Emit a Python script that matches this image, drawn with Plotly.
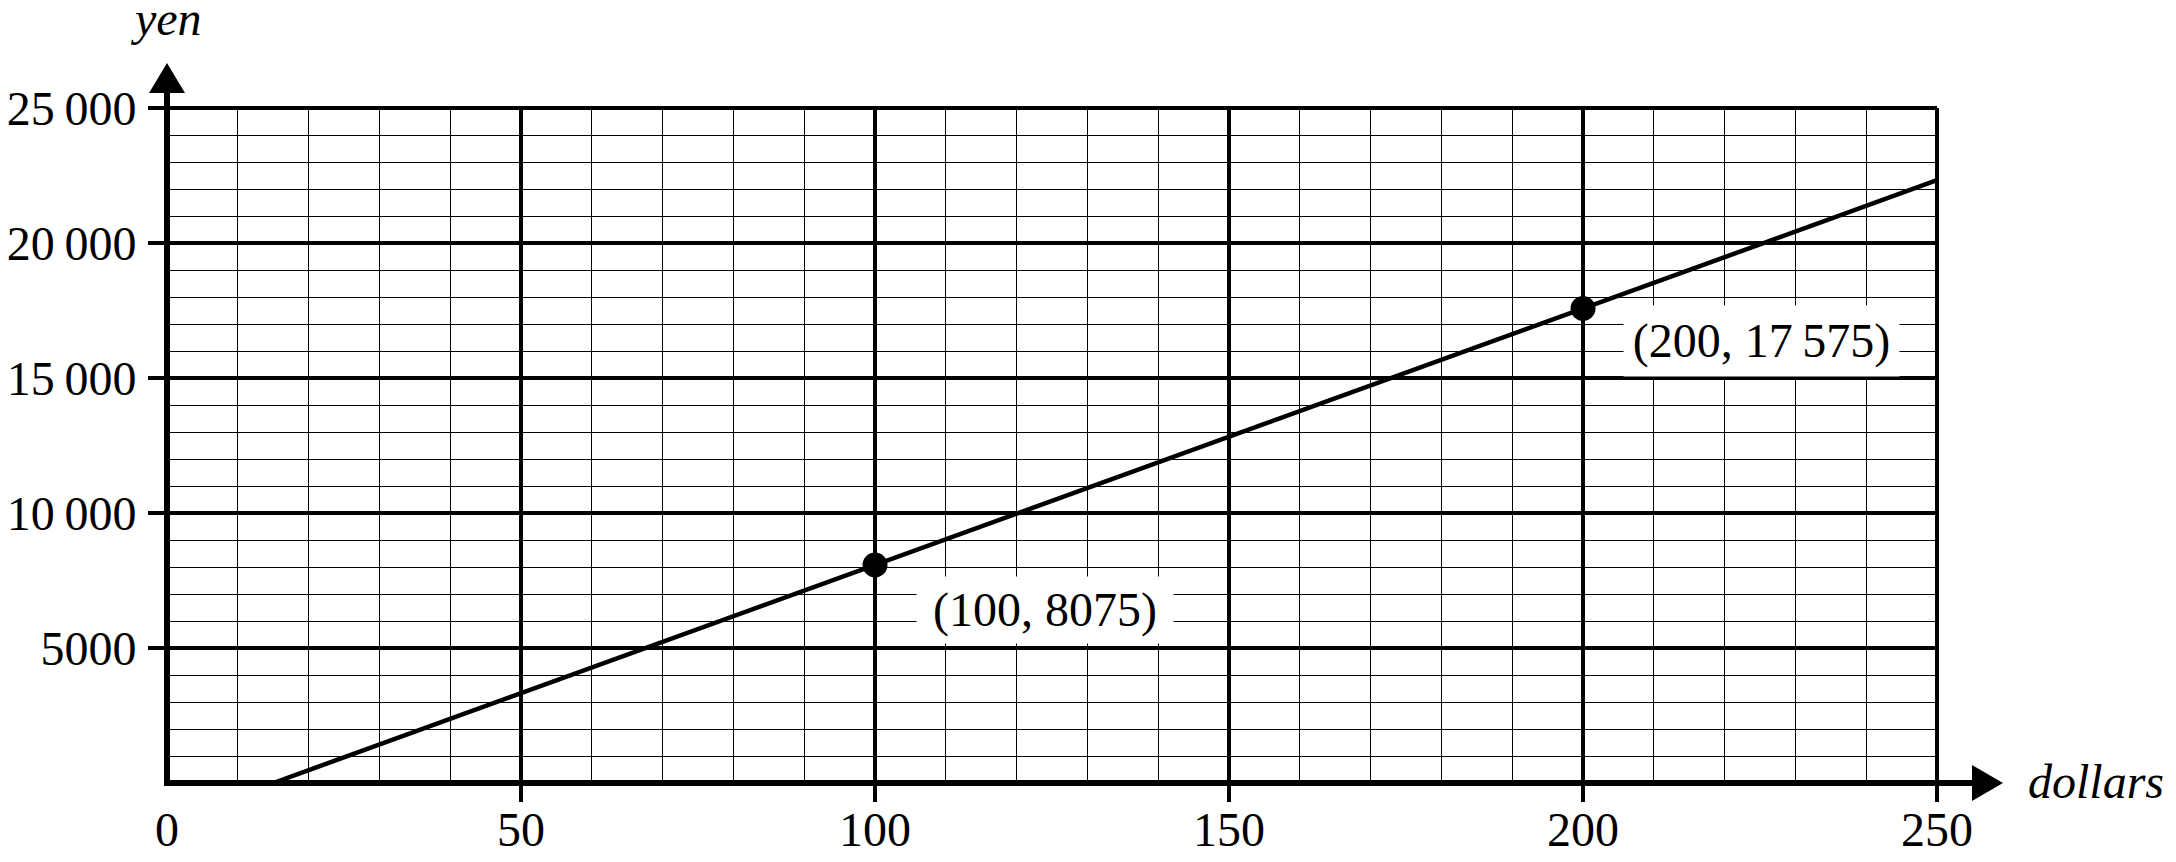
import plotly.graph_objects as go

# ---- data ----
dollars_pts = [100, 200]
yen_pts = [8075, 17575]
point_labels = ["(100, 8075)", "(200, 17\u2009575)"]
x_tickvals = [0, 50, 100, 150, 200, 250]
x_ticktext = ["0", "50", "100", "150", "200", "250"]
y_tickvals = [5000, 10000, 15000, 20000, 25000]
y_ticktext = ["5000", "10\u2009000", "15\u2009000", "20\u2009000", "25\u2009000"]
x_range = [0, 250]
y_range = [0, 25000]

# line through the two points, extended from the x-axis to the right edge
slope = (yen_pts[1] - yen_pts[0]) / (dollars_pts[1] - dollars_pts[0])
x_start = dollars_pts[0] - yen_pts[0] / slope
line_x = [x_start, x_range[1]]
line_y = [yen_pts[0] + slope * (xx - dollars_pts[0]) for xx in line_x]

# ---- layout geometry (screen pixels; page body has an 8px margin) ----
OFF = 8
W, H = 2176 - OFF, 862 - OFF
SL, SR, ST, SB = 167, 1937, 108, 783          # plot area on screen
L, R, T, B = SL - OFF, (OFF + W) - SR, ST - OFF, (OFF + H) - SB
PW, PH = SR - SL, SB - ST


def px(x):
    return (x - SL) / PW


def py(y):
    return (SB - y) / PH


FONT = "Liberation Serif, Times New Roman, serif"

fig = go.Figure()
fig.add_trace(go.Scatter(x=line_x, y=line_y, mode="lines",
                         line=dict(color="black", width=4.5),
                         hoverinfo="skip", showlegend=False, cliponaxis=False))
fig.add_trace(go.Scatter(x=dollars_pts, y=yen_pts, mode="markers",
                         marker=dict(color="black", size=25),
                         showlegend=False))
# dummy trace to create the tick-only overlay axis
fig.add_trace(go.Scatter(x=[None], y=[None], xaxis="x2", yaxis="y",
                         showlegend=False, hoverinfo="skip"))

shapes = []
# top and right borders
shapes.append(dict(type="line", xref="paper", yref="paper", x0=0, x1=1, y0=1, y1=1,
                   line=dict(color="black", width=4)))
shapes.append(dict(type="line", xref="paper", yref="paper", x0=1, x1=1, y0=0, y1=1,
                   line=dict(color="black", width=4)))
# axes
shapes.append(dict(type="line", xref="paper", yref="paper",
                   x0=px(167), x1=px(167), y0=py(786), y1=py(92),
                   line=dict(color="black", width=6)))
shapes.append(dict(type="line", xref="paper", yref="paper",
                   x0=px(164), x1=px(1973), y0=py(783), y1=py(783),
                   line=dict(color="black", width=6)))
# arrowheads
shapes.append(dict(type="path", xref="paper", yref="paper",
                   path=f"M {px(167)},{py(63)} L {px(149)},{py(93)} L {px(185)},{py(93)} Z",
                   fillcolor="black", line=dict(color="black", width=0)))
shapes.append(dict(type="path", xref="paper", yref="paper",
                   path=f"M {px(2003)},{py(783)} L {px(1972)},{py(765)} L {px(1972)},{py(801)} Z",
                   fillcolor="black", line=dict(color="black", width=0)))

annotations = []
# point labels
offsets = [(41, -11, 256, 66), (40, 3, 275, 70)]
for xv, yv, txt, (dx, dy, bw, bh) in zip(dollars_pts, yen_pts, point_labels, offsets):
    annotations.append(dict(x=xv, y=yv, xref="x", yref="y", text=txt, showarrow=False,
                            xanchor="left", yanchor="top", xshift=dx, yshift=dy,
                            width=bw, height=bh, borderpad=0, bgcolor="white",
                            font=dict(family=FONT, size=48, color="black")))
# axis titles
annotations.append(dict(x=px(166), y=py(19), xref="paper", yref="paper", text="<i>yen</i>",
                        showarrow=False, xanchor="center", yanchor="middle",
                        font=dict(family=FONT, size=48, color="black")))
annotations.append(dict(x=px(2026), y=py(781), xref="paper", yref="paper", text="<i>dollars</i>",
                        showarrow=False, xanchor="left", yanchor="middle",
                        font=dict(family=FONT, size=48, color="black")))

fig.update_layout(
    template="none",
    width=W, height=H, autosize=False,
    margin=dict(l=L, r=R, t=T, b=B, pad=0),
    paper_bgcolor="white", plot_bgcolor="white",
    showlegend=False,
    shapes=shapes, annotations=annotations,
    xaxis=dict(range=x_range, tickmode="array", tickvals=x_tickvals, ticktext=x_ticktext,
               ticks="", showline=False, zeroline=False, automargin=False,
               showgrid=True, gridcolor="black", gridwidth=4,
               minor=dict(tickmode="linear", tick0=0, dtick=10, showgrid=True,
                          gridcolor="black", gridwidth=1.2, ticks=""),
               tickfont=dict(family=FONT, size=48, color="black"),
               ticklabelstandoff=14, fixedrange=True),
    xaxis2=dict(range=x_range, overlaying="x", anchor="y", side="bottom",
                tickmode="array", tickvals=x_tickvals[1:], ticks="outside",
                ticklen=18, tickwidth=4, tickcolor="black", automargin=False,
                showticklabels=False, showgrid=False, zeroline=False, showline=False,
                fixedrange=True),
    yaxis=dict(range=y_range, tickmode="array", tickvals=y_tickvals, ticktext=y_ticktext,
               ticks="outside", ticklen=18, tickwidth=4, tickcolor="black",
               showline=False, zeroline=False, automargin=False,
               showgrid=True, gridcolor="black", gridwidth=4,
               minor=dict(tickmode="linear", tick0=0, dtick=1000, showgrid=True,
                          gridcolor="black", gridwidth=1.2, ticks=""),
               tickfont=dict(family=FONT, size=48, color="black"),
               ticklabelstandoff=2, fixedrange=True),
)

fig.write_html("out.html")
